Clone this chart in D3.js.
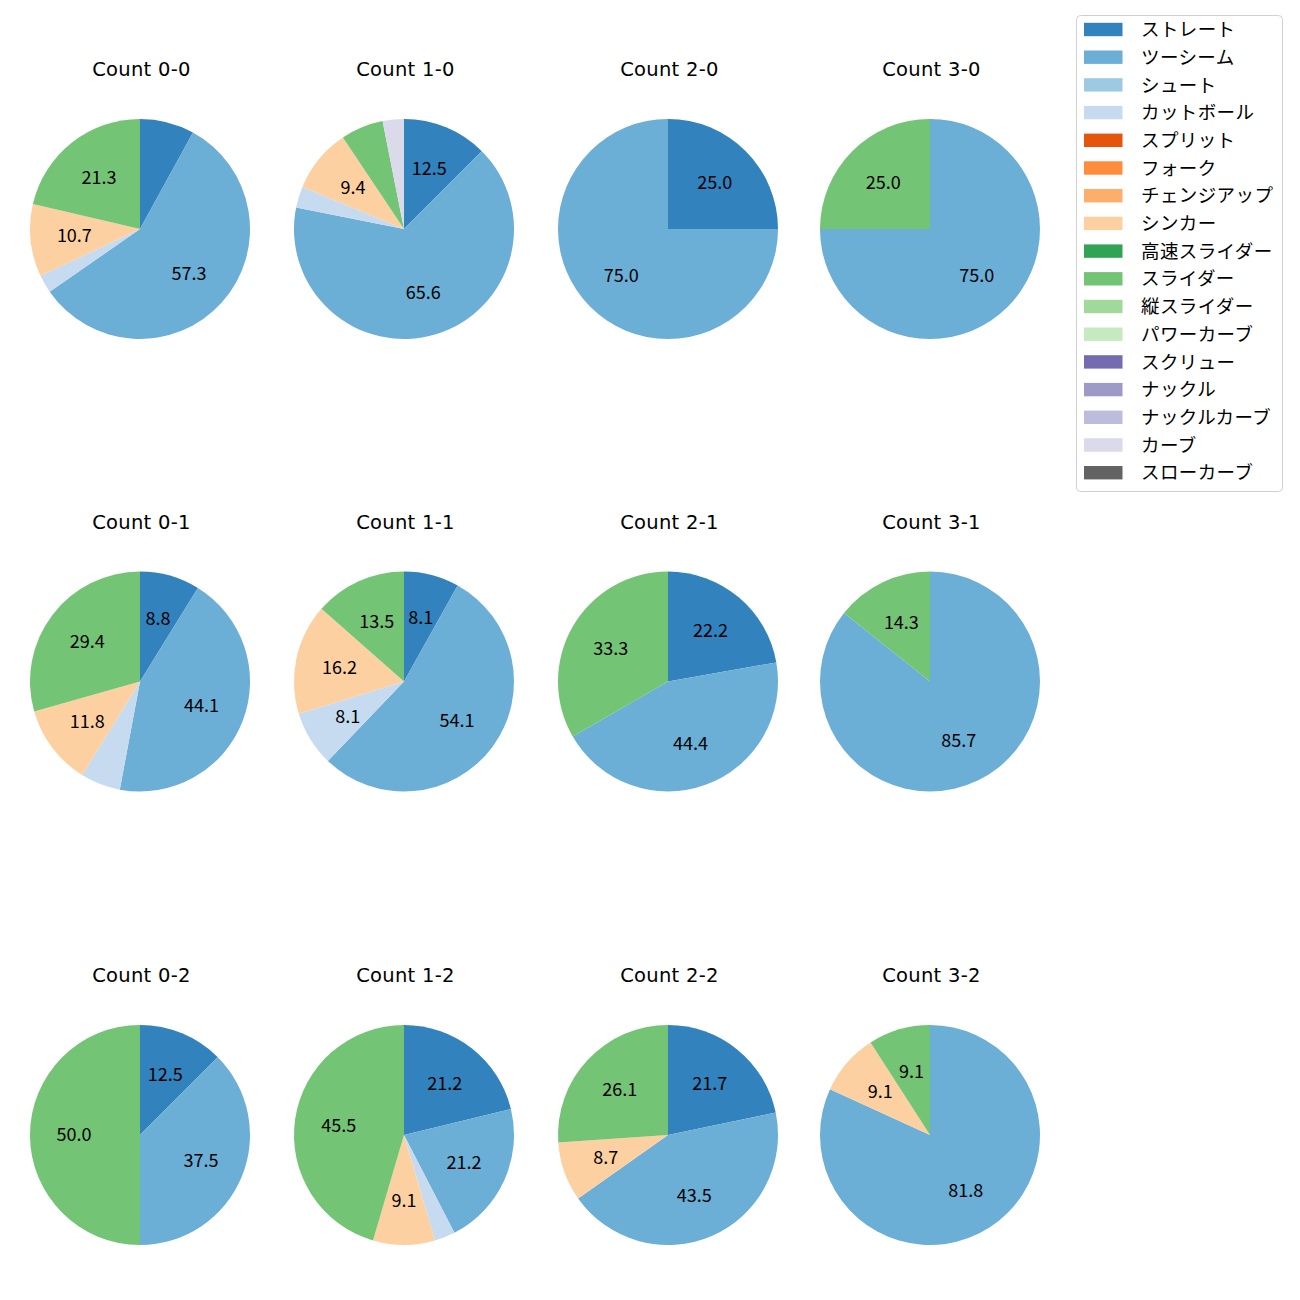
<!DOCTYPE html>
<html><head><meta charset="utf-8">
<script src="https://cdn.jsdelivr.net/npm/d3@7"></script>
<style>body{margin:0;background:#fff;} svg{display:block;}</style>
</head><body>
<script>
const pitchTypes = ["ストレート","ツーシーム","シュート","カットボール","スプリット","フォーク","チェンジアップ","シンカー","高速スライダー","スライダー","縦スライダー","パワーカーブ","スクリュー","ナックル","ナックルカーブ","カーブ","スローカーブ"];
const pitchColors = ["#3182bd","#6baed6","#9ecae1","#c6dbef","#e6550d","#fd8d3c","#fdae6b","#fdd0a2","#31a354","#74c476","#a1d99b","#c7e9c0","#756bb1","#9e9ac8","#bcbddc","#dadaeb","#636363"];
const countLabels = ["0-0","1-0","2-0","3-0","0-1","1-1","2-1","3-1","0-2","1-2","2-2","3-2"];
// pitch counts per situation, in pitchTypes order
const c00 = [6,43,0,2,0,0,0,8,0,16,0,0,0,0,0,0,0];
const c10 = [4,21,0,1,0,0,0,3,0,2,0,0,0,0,0,1,0];
const c20 = [1,3,0,0,0,0,0,0,0,0,0,0,0,0,0,0,0];
const c30 = [0,3,0,0,0,0,0,0,0,1,0,0,0,0,0,0,0];
const c01 = [3,15,0,2,0,0,0,4,0,10,0,0,0,0,0,0,0];
const c11 = [3,20,0,3,0,0,0,6,0,5,0,0,0,0,0,0,0];
const c21 = [2,4,0,0,0,0,0,0,0,3,0,0,0,0,0,0,0];
const c31 = [0,6,0,0,0,0,0,0,0,1,0,0,0,0,0,0,0];
const c02 = [1,3,0,0,0,0,0,0,0,4,0,0,0,0,0,0,0];
const c12 = [7,7,0,1,0,0,0,3,0,15,0,0,0,0,0,0,0];
const c22 = [5,10,0,0,0,0,0,2,0,6,0,0,0,0,0,0,0];
const c32 = [0,9,0,0,0,0,0,1,0,1,0,0,0,0,0,0,0];
const pieData = [c00,c10,c20,c30,c01,c11,c21,c31,c02,c12,c22,c32];

const W = 1300, H = 1300;
const font = "'Noto Sans CJK JP','Noto Sans',sans-serif";
const svg = d3.select("body").append("svg").attr("width",W).attr("height",H).style("font-family",font);

const colX = [140, 404, 668, 930];
const rowY = [229, 681.5, 1135];
const R = 110;
const color = d3.scaleOrdinal().domain(pitchTypes).range(pitchColors);
const pie = d3.pie().sort(null).value(d => d.v).startAngle(0).endAngle(2*Math.PI);
const arc = d3.arc().innerRadius(0).outerRadius(R);
const labelArc = d3.arc().innerRadius(R*0.6).outerRadius(R*0.6);

pieData.forEach((vals, i) => {
  const cx = colX[i % 4], cy = rowY[Math.floor(i/4)];
  const total = d3.sum(vals);
  const items = vals.map((v, k) => ({name: pitchTypes[k], v})).filter(d => d.v > 0);
  const g = svg.append("g").attr("transform", `translate(${cx},${cy})`);
  const arcs = pie(items);
  g.selectAll("path").data(arcs).join("path")
    .attr("d", arc).attr("fill", d => color(d.data.name));
  g.selectAll("text.lbl").data(arcs.filter(d => Math.round(d.data.v/total*1000)/10 > 8)).join("text")
    .attr("class","lbl")
    .attr("transform", d => `translate(${labelArc.centroid(d)})`)
    .attr("text-anchor","middle").attr("dy","0.36em")
    .attr("font-size", 18).attr("fill","#000")
    .text(d => (d.data.v/total*100).toFixed(1));
  svg.append("text").attr("x", cx + 1.5).attr("y", cy - 153)
    .attr("text-anchor","middle").attr("font-size", 19.5).attr("letter-spacing", 0.3)
    .style("font-family","'DejaVu Sans','Noto Sans',sans-serif").attr("fill","#000")
    .text("Count " + countLabels[i]);
});

// legend
const lg = svg.append("g");
lg.append("rect").attr("x",1076.5).attr("y",15.5).attr("width",206).attr("height",476)
  .attr("rx",4).attr("fill","#fff").attr("stroke","#d0d0d0").attr("stroke-width",1);
const rowStep = 27.7;
pitchTypes.forEach((p, k) => {
  const y = 29.5 + k*rowStep;
  lg.append("rect").attr("x",1084).attr("y", y-6.7).attr("width",38.5).attr("height",13.4).attr("fill", color(p));
  lg.append("text").attr("x",1141).attr("y", y).attr("dy","0.36em").attr("font-size",18.5).attr("letter-spacing",0.4).attr("fill","#000").text(p);
});
</script>
</body></html>
